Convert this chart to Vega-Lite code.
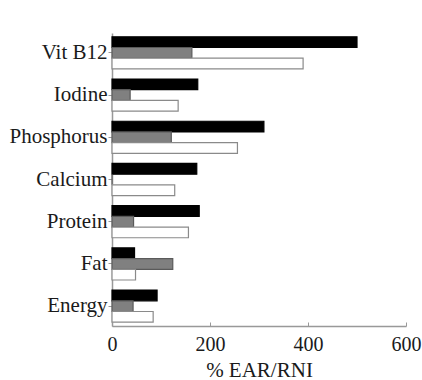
{
  "$schema": "https://vega.github.io/schema/vega-lite/v6.json",
  "width": 294,
  "height": 293,
  "autosize": "none",
  "padding": {"left": 112, "top": 33, "right": 16, "bottom": 54},
  "background": "white",
  "config": {"view": {"stroke": null}, "font": "Liberation Serif"},
  "data": {
    "values": [
      {"nutrient": "Vit B12", "series": "Series 1", "value": 500},
      {"nutrient": "Vit B12", "series": "Series 2", "value": 163},
      {"nutrient": "Vit B12", "series": "Series 3", "value": 390},
      {"nutrient": "Iodine", "series": "Series 1", "value": 175},
      {"nutrient": "Iodine", "series": "Series 2", "value": 37},
      {"nutrient": "Iodine", "series": "Series 3", "value": 135},
      {"nutrient": "Phosphorus", "series": "Series 1", "value": 310},
      {"nutrient": "Phosphorus", "series": "Series 2", "value": 121},
      {"nutrient": "Phosphorus", "series": "Series 3", "value": 256},
      {"nutrient": "Calcium", "series": "Series 1", "value": 173},
      {"nutrient": "Calcium", "series": "Series 2", "value": 0},
      {"nutrient": "Calcium", "series": "Series 3", "value": 128},
      {"nutrient": "Protein", "series": "Series 1", "value": 178},
      {"nutrient": "Protein", "series": "Series 2", "value": 44},
      {"nutrient": "Protein", "series": "Series 3", "value": 156},
      {"nutrient": "Fat", "series": "Series 1", "value": 46},
      {"nutrient": "Fat", "series": "Series 2", "value": 124},
      {"nutrient": "Fat", "series": "Series 3", "value": 48},
      {"nutrient": "Energy", "series": "Series 1", "value": 92},
      {"nutrient": "Energy", "series": "Series 2", "value": 43},
      {"nutrient": "Energy", "series": "Series 3", "value": 84}
    ]
  },
  "mark": {"type": "bar", "strokeWidth": 1.2},
  "encoding": {
    "y": {
      "field": "nutrient",
      "type": "nominal",
      "sort": ["Vit B12", "Iodine", "Phosphorus", "Calcium", "Protein", "Fat", "Energy"],
      "scale": {"paddingInner": 0.24, "paddingOuter": 0.09},
      "axis": {
        "title": null,
        "domainColor": "#999999",
        "domainWidth": 1.5,
        "tickColor": "#999999",
        "tickSize": 4,
        "labelPadding": 1,
        "labelFontSize": 21,
        "labelColor": "#1a1a1a",
        "labelFont": "Liberation Serif"
      }
    },
    "yOffset": {
      "field": "series",
      "type": "nominal",
      "sort": ["Series 1", "Series 2", "Series 3"],
      "scale": {"paddingInner": 0, "paddingOuter": 0}
    },
    "x": {
      "field": "value",
      "type": "quantitative",
      "scale": {"domain": [0, 600], "nice": false},
      "axis": {
        "values": [0, 200, 400, 600],
        "grid": false,
        "title": "% EAR/RNI",
        "titleFontSize": 21,
        "titleFontWeight": "normal",
        "titleColor": "#1a1a1a",
        "titleFont": "Liberation Serif",
        "titlePadding": 5,
        "domainColor": "#999999",
        "domainWidth": 1.5,
        "tickColor": "#999999",
        "tickSize": -4,
        "labelPadding": 12,
        "labelFontSize": 20,
        "labelColor": "#1a1a1a",
        "labelFont": "Liberation Serif",
        "labelFlush": false
      }
    },
    "color": {
      "field": "series",
      "type": "nominal",
      "scale": {"domain": ["Series 1", "Series 2", "Series 3"], "range": ["#000000", "#808080", "#ffffff"]},
      "legend": null
    },
    "stroke": {
      "field": "series",
      "type": "nominal",
      "scale": {"domain": ["Series 1", "Series 2", "Series 3"], "range": ["#000000", "#5a5a5a", "#8a8a8a"]},
      "legend": null
    }
  }
}
